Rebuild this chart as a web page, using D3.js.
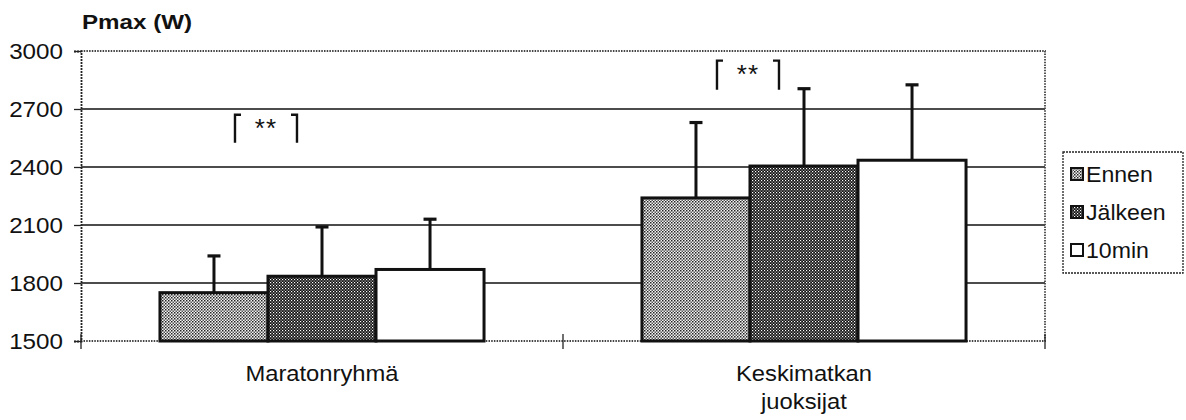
<!DOCTYPE html>
<html>
<head>
<meta charset="utf-8">
<script src="https://cdn.jsdelivr.net/npm/d3@7/dist/d3.min.js"></script>
<style>
  html, body { margin: 0; padding: 0; background: #fff; }
  svg text { font-family: Arial, "Liberation Sans", sans-serif; fill: #111; }
</style>
</head>
<body>
<svg id="chart" width="1186" height="420"></svg>
<script>
// Pmax (W) before, after and 10 min after, two runner groups
const categories = ["Maratonryhmä", "Keskimatkan juoksijat"];
const categoryLines = [["Maratonryhmä"], ["Keskimatkan", "juoksijat"]];
const series = ["Ennen", "Jälkeen", "10min"];
const ennen = [1750, 2240];
const jalkeen = [1835, 2405];
const min10 = [1870, 2435];
const sdEnnen = [190, 390];
const sdJalkeen = [255, 400];
const sdMin10 = [260, 390];
const yTicks = [1500, 1800, 2100, 2400, 2700, 3000];
// significance brackets (** between Ennen and Jälkeen), low/high ends in W
const sigGroup = [0, 1];
const sigLow = [2525, 2800];
const sigHigh = [2670, 2950];

const values = [ennen, jalkeen, min10];
const sds = [sdEnnen, sdJalkeen, sdMin10];

const svg = d3.select("#chart");
const plotL = 81, plotR = 1045, plotT = 51, plotB = 341;

const y = d3.scaleLinear().domain([1500, 3000]).range([plotB, plotT]);
const x0 = d3.scaleBand().domain(categories).range([plotL, plotR]).paddingInner(0).paddingOuter(0);
const x1 = d3.scaleBand().domain(series).range([0, x0.bandwidth()]).paddingInner(0).paddingOuter(0.731);

// stretch text horizontally a little (wide typeface look)
function stretch(sel, k) {
  sel.each(function () {
    const w = this.getComputedTextLength();
    d3.select(this).attr("textLength", w * k).attr("lengthAdjust", "spacingAndGlyphs");
  });
}

// fill patterns
const defs = svg.append("defs");
const pLight = defs.append("pattern").attr("id", "pEnnen").attr("patternUnits", "userSpaceOnUse")
  .attr("width", 3).attr("height", 3);
pLight.append("rect").attr("width", 3).attr("height", 3).attr("fill", "#f4f4f4");
pLight.append("rect").attr("x", 0).attr("y", 0).attr("width", 1.5).attr("height", 1.5).attr("fill", "#222");
pLight.append("rect").attr("x", 1.5).attr("y", 1.5).attr("width", 1.5).attr("height", 1.5).attr("fill", "#555");

const pDark = defs.append("pattern").attr("id", "pJalkeen").attr("patternUnits", "userSpaceOnUse")
  .attr("width", 3).attr("height", 3);
pDark.append("rect").attr("width", 3).attr("height", 3).attr("fill", "#111");
pDark.append("rect").attr("x", 0).attr("y", 0).attr("width", 1.2).attr("height", 1.2).attr("fill", "#fff");
pDark.append("rect").attr("x", 1.5).attr("y", 1.5).attr("width", 1.2).attr("height", 1.2).attr("fill", "#ccc");

const fills = { "Ennen": "url(#pEnnen)", "Jälkeen": "url(#pJalkeen)", "10min": "#fff" };

// gridlines
svg.append("g").selectAll("line")
  .data(yTicks.filter(t => t > 1500 && t < 3000))
  .join("line")
  .attr("x1", plotL).attr("x2", plotR)
  .attr("y1", d => y(d)).attr("y2", d => y(d))
  .attr("stroke", "#111").attr("stroke-width", 1.5);

// plot frame (dotted)
svg.append("path")
  .attr("d", `M${plotL},${plotT}H${plotR}V${plotB}H${plotL}`)
  .attr("fill", "none").attr("stroke", "#444").attr("stroke-width", 1.8)
  .attr("stroke-dasharray", "1.5,1.2");

// y axis
const yAxis = d3.axisLeft(y).tickValues(yTicks).tickSize(7).tickPadding(11).tickFormat(d3.format("d"));
const gy = svg.append("g").attr("transform", `translate(${plotL},0)`).call(yAxis);
gy.select(".domain").attr("stroke", "#222").attr("stroke-width", 1.8).attr("stroke-dasharray", "2,1");
gy.selectAll(".tick line").attr("stroke", "#222").attr("stroke-width", 1.3);
gy.selectAll(".tick text").attr("font-size", 22).attr("fill", "#111")
  .attr("font-family", "Arial, 'Liberation Sans', sans-serif");
stretch(gy.selectAll(".tick text"), 1.1);

// x axis category separator ticks
const sepX = [plotL].concat(categories.map(c => x0(c) + x0.bandwidth()));
svg.append("g").selectAll("line").data(sepX).join("line")
  .attr("x1", d => d).attr("x2", d => d)
  .attr("y1", plotB - 7).attr("y2", plotB + 8)
  .attr("stroke", "#222").attr("stroke-width", 1.3);

// bars
const groups = svg.append("g").selectAll("g").data(categories).join("g")
  .attr("transform", c => `translate(${x0(c)},0)`);

groups.each(function (c, ci) {
  const g = d3.select(this);
  series.forEach((s, si) => {
    const v = values[si][ci];
    const sd = sds[si][ci];
    const bx = x1(s), bw = x1.bandwidth();
    const cx = bx + bw / 2;
    // error bar (upward)
    g.append("line").attr("x1", cx).attr("x2", cx)
      .attr("y1", y(v)).attr("y2", y(v + sd))
      .attr("stroke", "#111").attr("stroke-width", 3);
    g.append("line").attr("x1", cx - 6.5).attr("x2", cx + 6.5)
      .attr("y1", y(v + sd)).attr("y2", y(v + sd))
      .attr("stroke", "#111").attr("stroke-width", 3.2);
    g.append("rect")
      .attr("x", bx).attr("y", y(v))
      .attr("width", bw).attr("height", y(1500) - y(v))
      .attr("fill", fills[s]).attr("stroke", "#111").attr("stroke-width", 3);
  });
});

// significance brackets
sigGroup.forEach((gi, i) => {
  const cx = x0(categories[gi]) + x1("Jälkeen") - 2;
  const hw = 31;
  const yt = y(sigHigh[i]), yb = y(sigLow[i]);
  svg.append("path")
    .attr("d", `M${cx - hw + 6},${yt}H${cx - hw}V${yb}M${cx + hw - 6},${yt}H${cx + hw}V${yb}`)
    .attr("fill", "none").attr("stroke", "#111").attr("stroke-width", 2.4);
  svg.append("text").attr("x", cx).attr("y", yt + 22)
    .attr("text-anchor", "middle").attr("font-size", 26).attr("letter-spacing", 1).text("**");
});

// category labels
categories.forEach((c, ci) => {
  const t = svg.append("text")
    .attr("x", x0(c) + x0.bandwidth() / 2).attr("y", 381)
    .attr("text-anchor", "middle").attr("font-size", 22);
  categoryLines[ci].forEach((line, li) => {
    t.append("tspan").attr("x", x0(c) + x0.bandwidth() / 2).attr("dy", li === 0 ? 0 : 28).text(line);
  });
  stretch(t.selectAll("tspan"), 1.08);
});

// title
const title = svg.append("text").attr("x", 82).attr("y", 29)
  .attr("font-size", 21).attr("font-weight", "bold").text("Pmax (W)");
stretch(title, 1.15);

// legend
const lg = svg.append("g");
lg.append("rect").attr("x", 1063).attr("y", 152).attr("width", 120).attr("height", 121)
  .attr("fill", "#fff").attr("stroke", "#222").attr("stroke-width", 1.3)
  .attr("stroke-dasharray", "2,1");
series.forEach((s, i) => {
  const cy = 174 + i * 38;
  lg.append("rect").attr("x", 1071).attr("y", cy - 6).attr("width", 12).attr("height", 12)
    .attr("fill", fills[s]).attr("stroke", "#111").attr("stroke-width", 2);
  const t = lg.append("text").attr("x", 1086).attr("y", cy + 8).attr("font-size", 22).text(s);
  stretch(t, 1.05);
});
</script>
</body>
</html>
